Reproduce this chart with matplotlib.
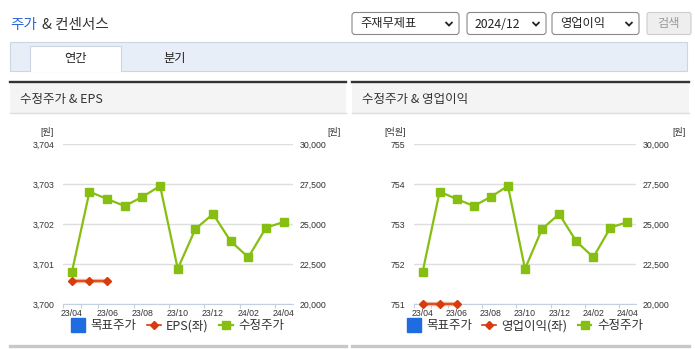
import matplotlib
matplotlib.use('Agg')
import matplotlib.pyplot as plt
from matplotlib.patches import Rectangle, FancyBboxPatch
from matplotlib.lines import Line2D

plt.rcParams['font.family'] = ['Noto Sans CJK KR', 'DejaVu Sans']

# ---- data ----
months = ['23/04', '23/05', '23/06', '23/07', '23/08', '23/09', '23/10',
          '23/11', '23/12', '24/01', '24/02', '24/03', '24/04']
price = [21980, 27020, 26560, 26125, 26700, 27375, 22200,
         24690, 25625, 23920, 22920, 24770, 25125]          # 수정주가 (원)
eps = [3700.57, 3700.57, 3700.57]                           # EPS (원)
op_income = [751, 751, 751]                                 # 영업이익 (억원)
eps_ticks = [3700, 3701, 3702, 3703, 3704]
op_ticks = [751, 752, 753, 754, 755]
price_ticks = [20000, 22500, 25000, 27500, 30000]

W, H = 695, 349
GREEN = '#86bf12'
RED = '#d83c0c'
BLUE = '#1f6be0'
TXT = '#333333'
NUMFONT = ['Liberation Sans', 'Noto Sans CJK KR']

fig = plt.figure(figsize=(W / 100, H / 100), dpi=100)
fig.patch.set_facecolor('white')

# background layer in pixel coords (y down)
bg = fig.add_axes([0, 0, 1, 1], zorder=0)
bg.set_xlim(0, W)
bg.set_ylim(H, 0)
bg.axis('off')

# title
bg.text(10, 25.5, '주가', color='#2d69d4', fontsize=10.5, va='center')
bg.text(42, 25.5, '& 컨센서스', color=TXT, fontsize=10.5, va='center')

# dropdowns
def dropdown(x0, x1, label):
    bg.add_patch(FancyBboxPatch((x0, 12.5), x1 - x0, 22, boxstyle='round,pad=0,rounding_size=3',
                                fc='white', ec='#8a8a8a', lw=0.8))
    bg.text(x0 + 8, 24, label, fontsize=8.8, color='#222222', va='center')
    cx = x1 - 10
    bg.plot([cx - 3.5, cx, cx + 3.5], [22, 25.5, 22], color='#222222', lw=1.3,
            solid_capstyle='butt', solid_joinstyle='miter')

dropdown(352, 459, '주재무제표')
dropdown(467, 546, '2024/12')
dropdown(552, 639, '영업이익')
bg.add_patch(FancyBboxPatch((647, 12.5), 44, 22, boxstyle='round,pad=0,rounding_size=2',
                            fc='#eeeeee', ec='#cccccc', lw=0.8))
bg.text(669, 24, '검색', fontsize=8.8, color='#9a9a9a', va='center', ha='center')

# tab bar
bg.add_patch(Rectangle((10, 42), 677, 29, fc='#e8eef8', ec='#cbd5e4', lw=0.8))
bg.add_patch(Rectangle((30, 46), 91, 26, fc='white', ec='none'))
bg.plot([30, 30, 121, 121], [71, 46, 46, 71], color='#cbd5e4', lw=0.8)
bg.text(75.5, 58.5, '연간', fontsize=8.8, color='#222222', ha='center', va='center')
bg.text(175, 58.5, '분기', fontsize=8.8, color='#222222', ha='center', va='center')

# panel headers and bottom rules
for x0, x1, title in [(10, 346, '수정주가 & EPS'), (352, 689, '수정주가 & 영업이익')]:
    bg.add_patch(Rectangle((x0, 82), x1 - x0, 31, fc='#f4f4f4', ec='none'))
    bg.plot([x0, x1], [82, 82], color='#333333', lw=1.7)
    bg.plot([x0, x1], [113, 113], color='#dddddd', lw=1)
    bg.text(x0 + 10, 99, title, fontsize=9, color=TXT, va='center')
    bg.plot([x0, x1], [345.5, 345.5], color='#c8c8c8', lw=2.4)


def chart(x0, x1, lvals, lticks, lunit, lname, lunit_x, runit_x):
    ax = fig.add_axes([x0 / W, 1 - 304 / H, (x1 - x0) / W, 160 / H], zorder=2)
    ax.patch.set_alpha(0)
    ax.set_xlim(-0.5, 12.5)
    ax.set_ylim(lticks[0], lticks[-1])
    ax.set_yticks(lticks)
    ax.set_yticklabels(['{:,}'.format(v) for v in lticks], fontsize=6.3, color=TXT,
                       family=NUMFONT)
    ax.yaxis.grid(True, color='#dedede', lw=1)
    ax.set_axisbelow(True)
    for s in ['left', 'right', 'top']:
        ax.spines[s].set_visible(False)
    ax.spines['bottom'].set_color('#c2d0e0')
    ax.tick_params(axis='y', length=0, pad=6)
    ax.set_xticks(range(0, 13, 2))
    ax.set_xticklabels(months[::2], fontsize=6.3, color=TXT, family=NUMFONT)
    ax.set_xticks([i - 0.5 for i in range(0, 14, 2)] + [0.5], minor=True)
    ax.tick_params(axis='x', which='major', length=0, pad=3.5)
    ax.tick_params(axis='x', which='minor', length=3, color='#c2d0e0', width=0.8)

    xs = list(range(len(lvals)))
    ax.plot(xs, lvals, color='#f2b59c', lw=3.2, clip_on=False, zorder=3)
    ax.plot(xs, lvals, color=RED, lw=1.2, marker='D', ms=4, clip_on=False, zorder=4)

    ax2 = ax.twinx()
    ax2.set_ylim(price_ticks[0], price_ticks[-1])
    ax2.set_yticks(price_ticks)
    ax2.set_yticklabels(['{:,}'.format(v) for v in price_ticks], fontsize=6.3, color=TXT,
                        family=NUMFONT)
    ax2.tick_params(axis='y', length=0, pad=5)
    for s in ax2.spines.values():
        s.set_visible(False)
    ax2.plot(range(len(price)), price, color=GREEN, lw=1.6, marker='s', ms=6.2,
             mec=GREEN, clip_on=False, zorder=5)

    bg.text(lunit_x, 132, lunit, fontsize=6.5, color=TXT, ha='right', va='center',
            family=NUMFONT)
    bg.text(runit_x, 132, '[원]', fontsize=6.5, color=TXT, ha='left', va='center',
            family=NUMFONT)

    handles = [
        Line2D([], [], ls='none', marker='s', ms=9.5, color=BLUE),
        Line2D([], [], color=RED, lw=1.2, marker='D', ms=4),
        Line2D([], [], color=GREEN, lw=1.6, marker='s', ms=6),
    ]
    ax.legend(handles, ['목표주가', lname, '수정주가'], loc='center',
              bbox_to_anchor=((x0 + x1) / 2 / W, 1 - 326 / H), bbox_transform=fig.transFigure,
              ncol=3, frameon=False, fontsize=9, handlelength=1.1, handletextpad=0.45,
              columnspacing=0.8, labelcolor=TXT)


chart(63, 292.5, eps, eps_ticks, '[원]', 'EPS(좌)', 54, 327)
chart(414, 636, op_income, op_ticks, '[억원]', '영업이익(좌)', 406, 672)

plt.savefig('out.png', dpi=100)
